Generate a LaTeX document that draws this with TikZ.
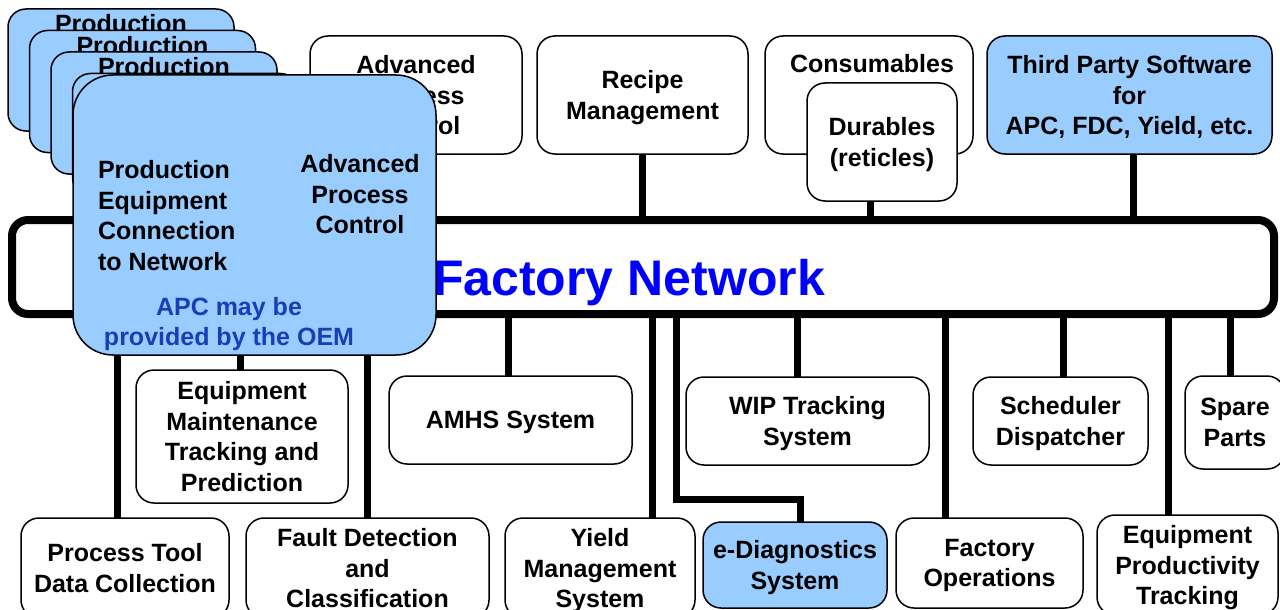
\documentclass[tikz,border=0pt]{standalone}
\usepackage{fontspec}
\setmainfont{Liberation Sans}
\usetikzlibrary{calc}
\definecolor{paleblue}{HTML}{99CCFF}
\definecolor{oemblue}{HTML}{1A3DB8}

\begin{document}
\begin{tikzpicture}[x=1pt,y=-1pt]
    \tikzstyle{every node}=[font=\bfseries\fontsize{25}{30.5}\selectfont,align=center,inner sep=0pt,outer sep=0pt,text depth=0pt]
    \tikzstyle{sysbox}=[draw,line width=1.5pt,rounded corners=18pt,fill=white]
    \tikzstyle{oembox}=[sysbox,fill=paleblue]
    \tikzstyle{link}=[line width=7pt]
    \useasboundingbox (0,0) rectangle (1280,610);
    \clip (0,0) rectangle (1280,610);
      \node[draw,line width=8pt,rounded corners=16pt,minimum width=1262pt,minimum height=94pt] (bar) at (643,267) {};
      \node[anchor=base,text=blue,font=\bfseries\fontsize{50}{60}\selectfont] (fnet) at (629,295) {Factory Network};
      \node[sysbox,minimum width=212pt,minimum height=118pt] (apctop) at (416,95) {Advanced\\Process\\Control};
      \node[sysbox,minimum width=211pt,minimum height=118pt] (recipe) at (642.5,95) {Recipe\\Management};
      \node[sysbox,minimum width=208pt,minimum height=118pt] (consum) at (869,95) {};
      \node[anchor=base] (consumtxt) at (872,73) {Consumables};
      \node[sysbox,minimum width=150pt,minimum height=118pt] (dur) at (882,142) {Durables\\(reticles)};
      \node[oembox,minimum width=285pt,minimum height=118pt] (third) at (1129.5,95) {Third Party Software\\for\\APC, FDC, Yield, etc.};
      \node[sysbox,minimum width=212pt,minimum height=133pt] (emtp) at (242,436.5) {Equipment\\Maintenance\\Tracking and\\Prediction};
      \node[sysbox,minimum width=243pt,minimum height=88pt] (amhs) at (510.5,420) {AMHS System};
      \node[sysbox,minimum width=243pt,minimum height=88pt] (wip) at (807.5,421) {WIP Tracking\\System};
      \node[sysbox,minimum width=175pt,minimum height=88pt] (sched) at (1060.5,421) {Scheduler\\Dispatcher};
      \node[sysbox,minimum width=100pt,minimum height=93pt] (spare) at (1235,422.5) {Spare\\Parts};
      \node[sysbox,minimum width=208pt,minimum height=100pt] (ptdc) at (125,568) {Process Tool\\Data Collection};
      \node[sysbox,minimum width=243pt,minimum height=100pt] (fdc) at (367.5,568) {Fault Detection\\and\\Classification};
      \node[sysbox,minimum width=190pt,minimum height=100pt] (yms) at (600,568) {Yield\\Management\\System};
      \node[oembox,minimum width=184pt,minimum height=86pt] (ediag) at (795,565) {e-Diagnostics\\System};
      \node[sysbox,minimum width=187pt,minimum height=90pt] (fops) at (989.5,563) {Factory\\Operations};
      \node[sysbox,minimum width=181pt,minimum height=100pt] (ept) at (1187.5,565) {Equipment\\Productivity\\Tracking};
      \foreach \n/\dx in {recipe/0,dur/-12,third/4}
        \draw[link] ([xshift=\dx pt]\n.south) -- ([xshift=\dx pt]\n.south |- bar.north);
      \foreach \n/\dx in {ptdc/-8,emtp/-2,fdc/0,amhs/-2.5,yms/52,wip/-10.5,fops/-44.5,sched/2.5,ept/-19.5,spare/-5}
        \draw[link] ([xshift=\dx pt]\n.north |- bar.south) -- ([xshift=\dx pt]\n.north);
      \coordinate (ebend) at (676,499);
      \draw[link] (ebend |- bar.south) -- (ebend) -| ([xshift=5pt]ediag.north);
      \foreach \i/\t in {0/Production,1/Production,2/Production,3/{}}{
        \node[oembox,minimum width=226pt,minimum height=122pt] (prod\i) at ({121+21.5*\i},{70+21.5*\i}) {};
        \node[anchor=base] (prodtxt\i) at ($(prod\i.north)+(0,24)$) {\t};
      }
      \node[oembox,rounded corners=40pt,minimum width=363pt,minimum height=280pt] (pecn) at (254.5,215) {};
      \node[anchor=west,align=left] (pecntxt) at (98,215.5) {Production\\Equipment\\Connection\\to Network};
      \node (apcin) at (360,194) {Advanced\\Process\\Control};
      \node[text=oemblue] (oemnote) at (229,321.5) {APC may be\\provided by the OEM};
  \end{tikzpicture}
\end{document}
